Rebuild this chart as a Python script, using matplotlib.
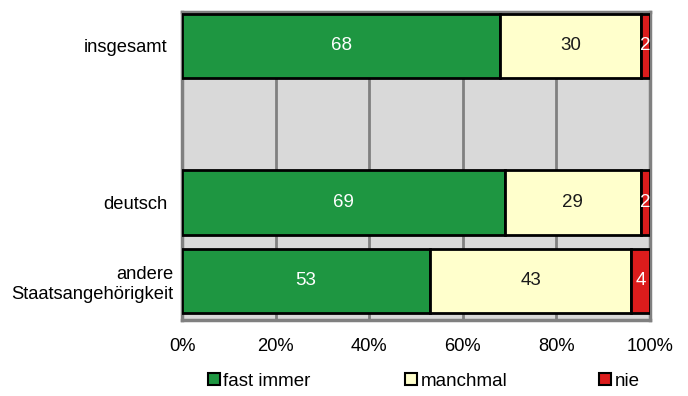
import matplotlib
matplotlib.use("Agg")
import matplotlib.pyplot as plt
from matplotlib.patches import Patch
from matplotlib.transforms import ScaledTranslation
import numpy as np

plt.rcParams['font.family'] = ['Liberation Sans', 'DejaVu Sans']

categories = ["insgesamt", "", "deutsch", "andere\nStaatsangehörigkeit"]
series_names = ["fast immer", "manchmal", "nie"]
fast_immer = [68, None, 69, 53]
manchmal = [30, None, 29, 43]
nie = [2, None, 2, 4]
xticklabels = ["0%", "20%", "40%", "60%", "80%", "100%"]

colors = ["#1e9641", "#ffffcc", "#dc1c1c"]
text_colors = ["white", "#1a1a1a", "white"]

fig = plt.figure(figsize=(6.88, 3.96), dpi=100)
ax = fig.add_axes([182/688, 1 - 320/396, (650-182)/688, (320-12)/396])
ax.set_facecolor("#d9d9d9")

ypos = np.arange(len(categories))
series = [fast_immer, manchmal, nie]
left = np.zeros(len(categories))
for s, col, tc in zip(series, colors, text_colors):
    for i, v in enumerate(s):
        if v is None:
            continue
        ax.barh(ypos[i], v, left=left[i], height=0.82, color=col,
                edgecolor="black", linewidth=2, zorder=3)
        ax.text(left[i] + v / 2, ypos[i], str(v), ha="center", va="center",
                color=tc, fontsize=13.5, zorder=4)
        left[i] += v

ax.set_xlim(0, 100)
ax.set_ylim(3.5, -0.434)
ax.set_yticks(ypos)
ax.set_yticklabels(categories, fontsize=13.2, linespacing=1.25)
ax.set_xticks(np.arange(0, 101, 20))
ax.set_xticklabels(xticklabels, fontsize=13.2)
ax.tick_params(axis="both", length=0)
ax.tick_params(axis="x", pad=13)
ax.tick_params(axis="y", pad=10.5)
ax.grid(axis="x", color="#808080", linewidth=2, zorder=1)
ax.set_axisbelow(True)
for sp in ax.spines.values():
    sp.set_color("#808080")
    sp.set_linewidth(2.5)

lab = ax.get_yticklabels()[3]
lab.set_transform(lab.get_transform() + ScaledTranslation(6/100, 0, fig.dpi_scale_trans))

legend_x = [208/688, 405/688, 599/688]
for name, col, lx in zip(series_names, colors, legend_x):
    fig.legend(handles=[Patch(facecolor=col, edgecolor="black", linewidth=1.5)],
               labels=[name], loc="center left", bbox_to_anchor=(lx, 1 - 381/396),
               frameon=False, borderpad=0, borderaxespad=0, handlelength=0.62,
               handleheight=0.62, handletextpad=0.2, fontsize=13.5)

fig.savefig("out.png", dpi=100)
